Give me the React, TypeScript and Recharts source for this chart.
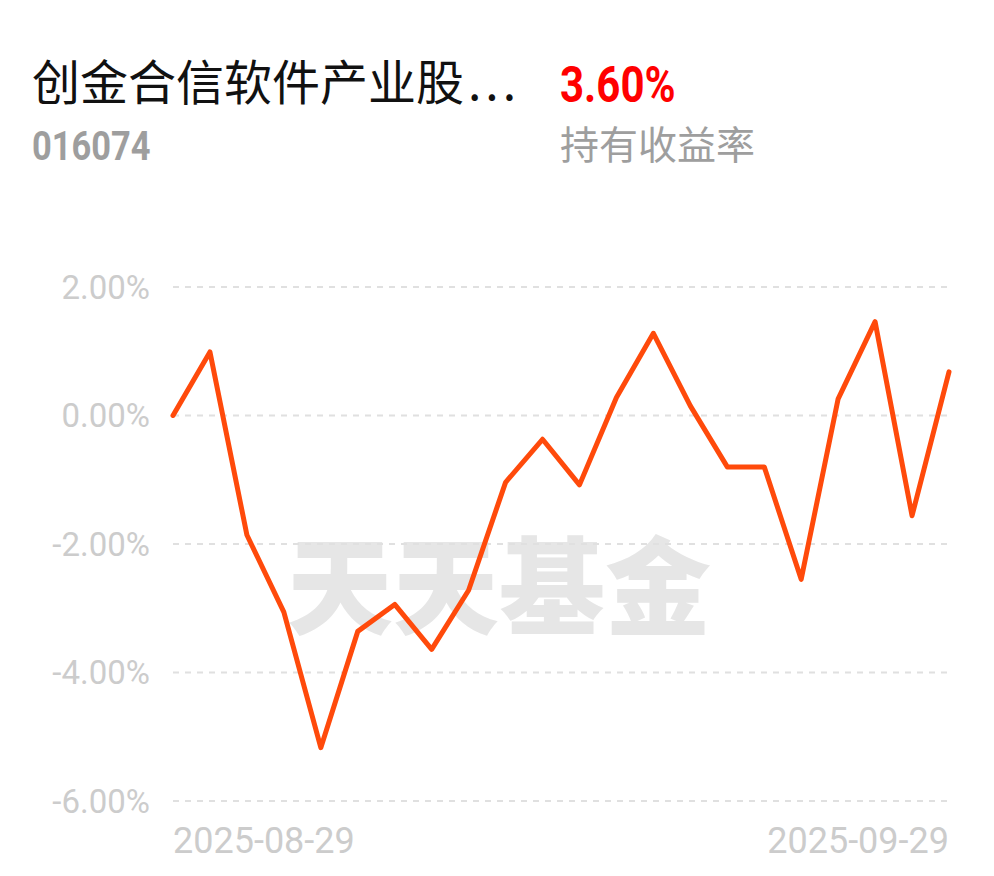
import React from 'react';
import { LineChart, Line, XAxis, YAxis, CartesianGrid } from 'recharts';

const DATES = [
  '2025-08-29', '2025-09-01', '2025-09-02', '2025-09-03', '2025-09-04', '2025-09-05',
  '2025-09-08', '2025-09-09', '2025-09-10', '2025-09-11', '2025-09-12',
  '2025-09-15', '2025-09-16', '2025-09-17', '2025-09-18', '2025-09-19',
  '2025-09-22', '2025-09-23', '2025-09-24', '2025-09-25', '2025-09-26',
  '2025-09-29',
];

const RETURNS = [
  0, 0.99, -1.86, -3.06, -5.17, -3.36, -2.94, -3.64, -2.72, -1.04, -0.37,
  -1.08, 0.28, 1.28, 0.15, -0.8, -0.8, -2.55, 0.26, 1.46, -1.56, 0.68,
];

const Y_TICKS = [-6, -4, -2, 0, 2];
const X_TICKS = [DATES[0], DATES[DATES.length - 1]];

const FUND_NAME = '创金合信软件产业股';
const FUND_CODE = '016074';
const HOLD_RETURN = '3.60%';
const HOLD_LABEL = '持有收益率';
const WATERMARK = '天天基金';

const data = DATES.map((d, i) => ({ date: d, value: RETURNS[i] }));

const CJK = '"Noto Sans CJK SC", sans-serif';
const LATIN = 'Roboto, sans-serif';

function DateTick(props: any) {
  const { x, y, payload, index } = props;
  return (
    <text
      x={x}
      y={y}
      dy={52}
      textAnchor={index === 0 ? 'start' : 'end'}
      fill="#cccccc"
      fontSize={36}
      fontFamily={LATIN}
    >
      {payload.value}
    </text>
  );
}

export default function App() {
  return (
    <div
      style={{
        position: 'absolute',
        left: 0,
        top: 0,
        width: 994,
        height: 876,
        background: '#fff',
        overflow: 'hidden',
      }}
    >
      <div style={{ position: 'absolute', left: 32, top: 55, fontFamily: CJK, fontSize: 48, lineHeight: 1, color: '#111', whiteSpace: 'nowrap' }}>
        {FUND_NAME}
        <span style={{ letterSpacing: 4, marginLeft: 4 }}>...</span>
      </div>
      <div style={{ position: 'absolute', left: 32, top: 126, fontFamily: LATIN, fontWeight: 700, fontSize: 41, lineHeight: 1, color: '#9e9e9e', transform: 'scaleX(0.84)', transformOrigin: 'left top' }}>
        {FUND_CODE}
      </div>
      <div style={{ position: 'absolute', left: 560, top: 60, fontFamily: LATIN, fontWeight: 700, fontSize: 50, lineHeight: 1, color: '#ff0000', transform: 'scaleX(0.84)', transformOrigin: 'left top' }}>
        {HOLD_RETURN}
      </div>
      <div style={{ position: 'absolute', left: 560, top: 123, fontFamily: CJK, fontSize: 39, lineHeight: 1, color: '#9e9e9e', whiteSpace: 'nowrap' }}>
        {HOLD_LABEL}
      </div>
      <div style={{ position: 'absolute', left: 287, top: 527, fontFamily: CJK, fontWeight: 900, fontSize: 106, lineHeight: 1, color: '#e6e6e6', whiteSpace: 'nowrap' }}>
        {WATERMARK}
      </div>
      <div style={{ position: 'absolute', left: 0, top: 0 }}>
        <LineChart width={994} height={876} data={data} margin={{ top: 287, right: 45, bottom: 0, left: 0 }}>
          <CartesianGrid vertical={false} stroke="#e0e0e0" strokeWidth={2} strokeDasharray="6 6" />
          <XAxis
            dataKey="date"
            ticks={X_TICKS}
            interval={0}
            axisLine={false}
            tickLine={false}
            tickSize={0}
            tickMargin={0}
            height={75}
            tick={<DateTick />}
          />
          <YAxis
            domain={[-6, 2]}
            ticks={Y_TICKS}
            width={173}
            axisLine={false}
            tickLine={false}
            tickSize={0}
            tickMargin={23}
            tickFormatter={(v: number) => v.toFixed(2) + '%'}
            tick={{ fill: '#cccccc', fontSize: 33, fontFamily: LATIN }}
          />
          <Line
            type="linear"
            dataKey="value"
            stroke="#ff4a0b"
            strokeWidth={5}
            dot={false}
            strokeLinejoin="round"
            strokeLinecap="round"
            isAnimationActive={false}
          />
        </LineChart>
      </div>
    </div>
  );
}
